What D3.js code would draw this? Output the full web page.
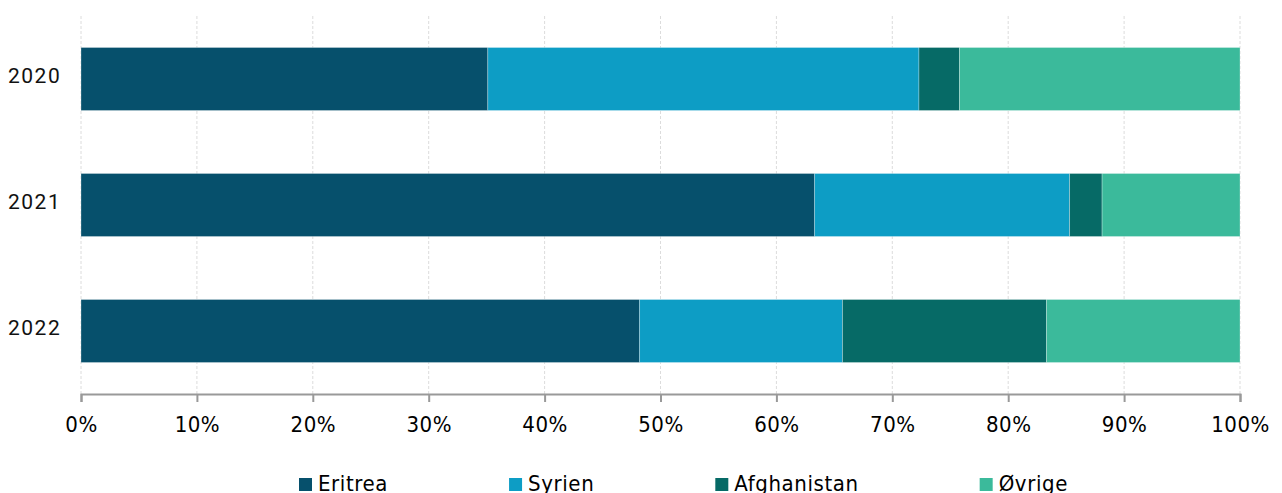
<!DOCTYPE html>
<html><head><meta charset="utf-8">
<script src="https://cdn.jsdelivr.net/npm/d3@7"></script>
<style>body{margin:0;background:#fff}svg{display:block}</style>
</head><body>
<svg id="c" width="1282" height="493"></svg>
<script>
const years = ["2020", "2021", "2022"];
const seriesNames = ["Eritrea", "Syrien", "Afghanistan", "Øvrige"];
const eritrea     = [35.1, 63.3, 48.2];
const syrien      = [37.2, 22.0, 17.5];
const afghanistan = [3.5, 2.8, 17.6];
const ovrige      = [24.2, 11.9, 16.7];
const colors = ["#06506c", "#0d9dc5", "#066a66", "#3bba9b"];
const xTicks = [0, 10, 20, 30, 40, 50, 60, 70, 80, 90, 100];

(function () {
const seriesValues = [eritrea, syrien, afghanistan, ovrige];
const rows = years.map((y, i) => {
  const r = {year: y};
  seriesNames.forEach((s, j) => r[s] = seriesValues[j][i]);
  return r;
});

const svg = d3.select("#c");
const mLeft = 81, mRight = 1240, mTop = 16, mBottom = 394;
const x = d3.scaleLinear().domain([0, 100]).range([mLeft, mRight]);
const y = d3.scaleBand().domain(years).range([mTop, mBottom]).paddingInner(0.5).paddingOuter(0.25);
const color = d3.scaleOrdinal().domain(seriesNames).range(colors);

// grid
svg.append("g").selectAll("line").data(xTicks).join("line")
  .attr("x1", d => x(d)).attr("x2", d => x(d))
  .attr("y1", mTop).attr("y2", mBottom)
  .attr("stroke", "#dcdcdc").attr("stroke-width", 1).attr("stroke-dasharray", "3,2");

// bars
const stack = d3.stack().keys(seriesNames)(rows);
svg.append("g").selectAll("g").data(stack).join("g")
  .attr("fill", d => color(d.key))
  .selectAll("rect").data(d => d).join("rect")
  .attr("x", d => x(d[0]))
  .attr("width", d => x(d[1]) - x(d[0]))
  .attr("y", d => y(d.data.year))
  .attr("height", y.bandwidth())
  .attr("stroke", "#ffffff").attr("stroke-opacity", 0.35).attr("stroke-width", 0.8);

// x axis
const xAxis = svg.append("g").attr("transform", `translate(0,${mBottom})`)
  .call(d3.axisBottom(x).tickValues(xTicks).tickFormat(d => d + "%").tickSize(8).tickPadding(14));
xAxis.select(".domain").attr("stroke", "#999").attr("stroke-width", 2);
xAxis.selectAll(".tick line").attr("stroke", "#999").attr("stroke-width", 2);
xAxis.selectAll(".tick text")
  .attr("font-family", "'DejaVu Sans Condensed', 'DejaVu Sans', sans-serif")
  .attr("font-size", 22).attr("letter-spacing", 0.5).attr("fill", "#000");

// y labels
svg.append("g").selectAll("text").data(years).join("text")
  .attr("x", 8)
  .attr("y", d => y(d) + y.bandwidth() / 2 - 3)
  .attr("dominant-baseline", "central")
  .attr("font-family", "Roboto, sans-serif")
  .attr("font-size", 21).attr("letter-spacing", 1.5).attr("fill", "#111")
  .text(d => d);

// legend
const leg = svg.append("g");
let lx = 299;
seriesNames.forEach((s, i) => {
  leg.append("rect").attr("x", lx).attr("y", 478).attr("width", 13).attr("height", 13).attr("fill", colors[i]);
  const t = leg.append("text").attr("x", lx + 19).attr("y", 491)
    .attr("font-family", "'DejaVu Sans Condensed', 'DejaVu Sans', sans-serif")
    .attr("font-size", 22).attr("letter-spacing", 0.6).attr("fill", "#000").text(s);
  lx = lx + 19 + t.node().getComputedTextLength() + 121;
});
})();
</script>
</body></html>
